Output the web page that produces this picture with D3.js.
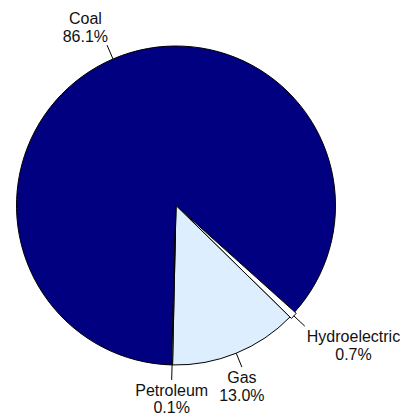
<!DOCTYPE html>
<html>
<head>
<meta charset="utf-8">
<script src="https://cdn.jsdelivr.net/npm/d3@7"></script>
<style>
  html, body { margin: 0; padding: 0; background: #fff; }
  svg text { font-family: "Liberation Sans", Arial, sans-serif; font-size: 16px; fill: #111; }
</style>
</head>
<body>
<svg id="chart" width="406" height="418"></svg>
<script>
const categories = ["Coal", "Hydroelectric", "Gas", "Petroleum"];
const values = [86.1, 0.7, 13.0, 0.1];
const valueLabels = ["86.1%", "0.7%", "13.0%", "0.1%"];
const colors = ["#000080", "#ffffff", "#ddeeff", "#c0c0c0"];
const explode = [0, 2, 0, 0];

const W = 406, H = 418;
const cx = 176, cy = 205.5, R = 159.5;
const start = -178.4 * Math.PI / 180;

const data = categories.map((c, i) => ({ name: c, value: values[i], label: valueLabels[i], color: colors[i], explode: explode[i] }));

const pie = d3.pie().sort(null).value(d => d.value).startAngle(start).endAngle(start + 2 * Math.PI);
const arc = d3.arc().innerRadius(0).outerRadius(R);

const svg = d3.select("#chart");
const g = svg.append("g").attr("transform", `translate(${cx},${cy})`);

const arcs = pie(data);

g.selectAll("path.slice")
  .data(arcs)
  .join("path")
  .attr("class", "slice")
  .attr("d", arc)
  .attr("transform", d => {
    const a = (d.startAngle + d.endAngle) / 2;
    const e = d.data.explode;
    return `translate(${e * Math.sin(a)},${-e * Math.cos(a)})`;
  })
  .attr("fill", d => d.data.color)
  .attr("stroke", "#000")
  .attr("stroke-width", 1)
  .attr("stroke-linejoin", "round");

const leaderLen = 15;
const lineH = 17.5;

arcs.forEach(d => {
  const a = (d.startAngle + d.endAngle) / 2;
  const s = Math.sin(a), c = -Math.cos(a);
  const r0 = R + d.data.explode;
  const x0 = r0 * s, y0 = r0 * c;
  const x1 = (r0 + leaderLen) * s, y1 = (r0 + leaderLen) * c;
  g.append("line")
    .attr("x1", x0).attr("y1", y0).attr("x2", x1).attr("y2", y1)
    .attr("stroke", "#000").attr("stroke-width", 1);

  const upper = c < 0;
  let anchor;
  if (!upper && Math.abs(s) < 0.5) anchor = "middle";
  else anchor = s < 0 ? "end" : "start";
  const tx = anchor === "middle" ? x1 : (anchor === "end" ? x1 + 1 : x1 + 2);
  const firstBaseline = upper ? y1 - 3.5 - lineH : y1 + 16;
  const t = g.append("text").attr("text-anchor", "middle");
  const lines = [d.data.name, d.data.label];
  // compute block width to center lines within block
  const tmp = g.append("text").text(d.data.name);
  const w1 = tmp.node().getComputedTextLength();
  tmp.text(d.data.label);
  const w2 = tmp.node().getComputedTextLength();
  tmp.remove();
  const bw = Math.max(w1, w2);
  let centerX;
  if (anchor === "middle") centerX = tx;
  else if (anchor === "end") centerX = tx - bw / 2;
  else centerX = tx + bw / 2;
  lines.forEach((ln, k) => {
    t.append("tspan").attr("x", centerX).attr("y", firstBaseline + k * lineH).text(ln);
  });
});
</script>
</body>
</html>
